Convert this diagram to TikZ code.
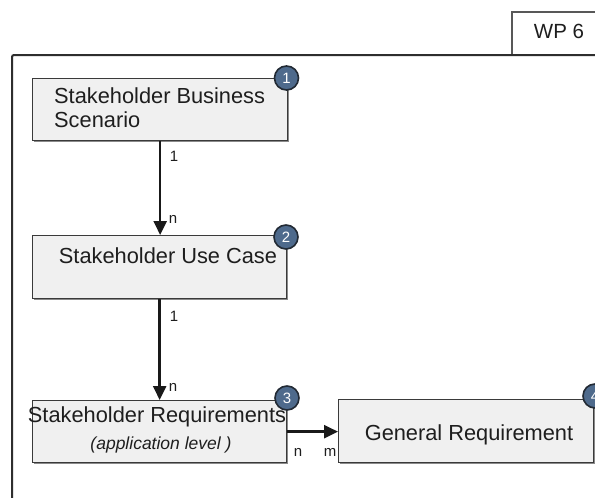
\documentclass[tikz,border=0pt]{standalone}
\usepackage{fontspec}
\setmainfont{Liberation Sans}
\usetikzlibrary{arrows.meta,shadows}
\definecolor{boxfill}{HTML}{F0F0F0}
\definecolor{boxline}{HTML}{3A3A3A}
\definecolor{shadowc}{HTML}{8A8A8A}
\definecolor{badgefill}{HTML}{4E6A8C}
\definecolor{badgeline}{HTML}{222A34}
\definecolor{framec}{HTML}{2E2E2E}
\definecolor{textc}{HTML}{1E1E1E}
\begin{document}
\begin{tikzpicture}[x=1pt,y=-1pt,
  entity/.style={rectangle, draw=boxline, line width=1.3pt, fill=boxfill,
    inner sep=0pt, anchor=north west,
    drop shadow={shadow xshift=1.6pt, shadow yshift=-1.6pt, fill=shadowc, opacity=1}},
  boxtext/.style={inner sep=0pt, text=textc, font=\fontsize{21.8}{24}\selectfont},
  subtext/.style={inner sep=0pt, text=textc, font=\fontsize{17.5}{20}\selectfont\itshape},
  badge/.style={circle, draw=badgeline, line width=1.6pt, fill=badgefill,
    minimum size=24pt, inner sep=0pt, text=white, font=\fontsize{15}{15}\selectfont},
  conn/.style={draw=black!90, line width=2.4pt, -{Triangle[length=14pt,width=13pt]}},
  mult/.style={inner sep=0pt, text=textc, font=\fontsize{15}{15}\selectfont},
  frameline/.style={draw=framec, line width=2pt},
  tabline/.style={draw=framec!80, line width=1.3pt}]
\clip (0,0) rectangle (595,498);
\fill[white] (0,0) rectangle (595,498);
% package frame and tab
\draw[tabline] (512,55) -- (512,12) -- (600,12);
\node[inner sep=0pt, anchor=base, text=textc, font=\fontsize{20.5}{20}\selectfont] (wp) at (559,38) {WP 6};
\draw[frameline, rounded corners=2pt] (12,505) -- (12,55) -- (600,55);
% boxes
\node[entity, minimum width=255pt, minimum height=62pt] (b1) at (32,78) {};
\node[entity, minimum width=254pt, minimum height=63pt] (b2) at (32,235) {};
\node[entity, minimum width=254pt, minimum height=62pt] (b3) at (32,400) {};
\node[entity, minimum width=255pt, minimum height=63pt] (b4) at (338,399) {};
% texts
\node[boxtext, anchor=base west] (t1a) at (54,103) {Stakeholder Business};
\node[boxtext, anchor=base west] (t1b) at (54,127) {Scenario};
\node[boxtext, anchor=base] (t2) at (168,263) {Stakeholder Use Case};
\node[boxtext, anchor=base] (t3) at (157,422) {Stakeholder Requirements};
\node[subtext, anchor=base] (t3b) at (161,449) {(application level )};
\node[boxtext, anchor=base] (t4) at (469,440) {General Requirement};
% badges
\node[badge] (k1) at (286.5,78) {1};
\node[badge] (k2) at (286,237) {2};
\node[badge] (k3) at (287,398) {3};
\node[badge] (k4) at (595,396) {4};
% connectors
\draw[conn] (b1.south) -- (b1.south |- b2.north);
\draw[conn] (b2.south) -- (b2.south |- b3.north);
\draw[conn] (b3.east) -- (b3.east -| b4.west);
% multiplicities
\node[mult] (m1a) at (174,156) {1};
\node[mult] (m1b) at (173,219) {n};
\node[mult] (m2a) at (174,316) {1};
\node[mult] (m2b) at (173,387) {n};
\node[mult] (m3a) at (298,452) {n};
\node[mult] (m3b) at (330,452) {m};
\end{tikzpicture}
\end{document}
